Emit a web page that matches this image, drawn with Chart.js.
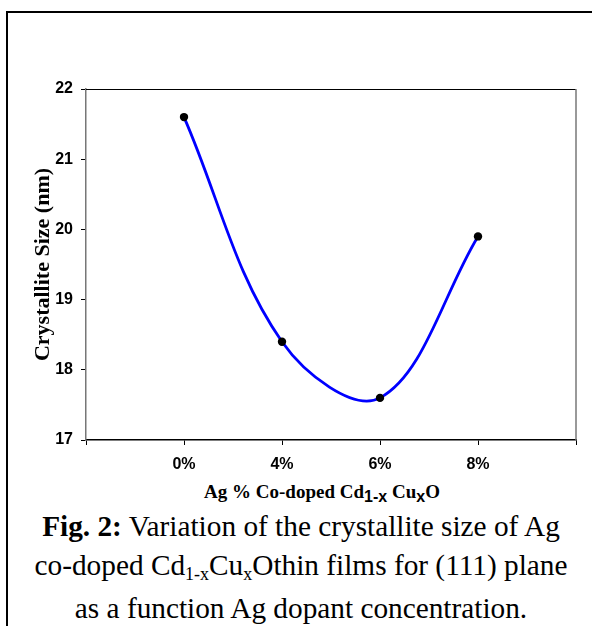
<!DOCTYPE html>
<html>
<head>
<meta charset="utf-8">
<script src="https://cdn.jsdelivr.net/npm/chart.js@4.4.1/dist/chart.umd.min.js"></script>
<style>
  html, body { margin: 0; padding: 0; background: #fff; }
  body { width: 592px; height: 626px; position: relative; overflow: hidden; }
  #frameTop { position: absolute; left: 6px; top: 11px; width: 600px; height: 2px; background: #000; }
  #frameLeft { position: absolute; left: 6px; top: 11px; width: 2px; height: 620px; background: #000; }
  #wrap { position: absolute; left: 0; top: 0; width: 592px; height: 480px; }
  #xtitle { position: absolute; left: 0; width: 644px; top: 481px; text-align: center;
    font-family: "Liberation Serif", "Times New Roman", serif; font-weight: bold; font-size: 19px; white-space: nowrap; }
  #xtitle .s { font-family: "Liberation Sans", Arial, sans-serif; font-size: 16px; position: relative; top: 4px; }
  #caption { position: absolute; left: 0; width: 602px; top: 507px; text-align: center;
    font-family: "Liberation Serif", "Times New Roman", serif; font-size: 29.3px; line-height: 39px; color: #000; white-space: nowrap; }
  #caption sub { font-size: 18px; vertical-align: baseline; position: relative; top: 5px; }
</style>
</head>
<body>
<div id="frameTop"></div>
<div id="frameLeft"></div>
<div id="wrap"><canvas id="c" width="592" height="480"></canvas></div>
<div id="xtitle">Ag % Co-doped Cd<span class="s">1-x</span> Cu<span class="s">x</span>O</div>
<div id="caption"><b>Fig. 2:</b> Variation of the crystallite size of Ag<br>co-doped Cd<sub>1-x</sub>Cu<sub>x</sub>Othin films for (111) plane<br>as a function Ag dopant concentration.</div>
<script>
const categories = ['0%', '4%', '6%', '8%'];
const crystalliteSize = [21.6, 18.4, 17.6, 19.9];
const yTicks = [17, 18, 19, 20, 21, 22];
const yTitle = 'Crystallite Size (nm)';

const labels = [''].concat(categories, ['']);
const values = [null].concat(crystalliteSize, [null]);

const boxPlugin = {
  id: 'box',
  afterDraw(chart) {
    const {ctx, chartArea: a} = chart;
    ctx.save();
    ctx.lineWidth = 1;
    ctx.strokeStyle = '#000';
    ctx.beginPath(); ctx.moveTo(a.left, a.top + 0.5); ctx.lineTo(a.right, a.top + 0.5); ctx.stroke();
    ctx.strokeStyle = '#777';
    ctx.lineWidth = 1.5;
    ctx.beginPath(); ctx.moveTo(a.right, a.top); ctx.lineTo(a.right, a.bottom); ctx.stroke();
    ctx.restore();
  }
};

new Chart(document.getElementById('c'), {
  type: 'line',
  data: {
    labels: labels,
    datasets: [{
      data: values,
      borderColor: '#0000ff',
      borderWidth: 2.8,
      tension: 0.36,
      spanGaps: true,
      pointRadius: 4.2,
      pointBackgroundColor: '#000',
      pointBorderColor: '#000',
      pointBorderWidth: 0,
      fill: false,
      clip: false
    }]
  },
  options: {
    responsive: false,
    animation: false,
    devicePixelRatio: 1,
    layout: { padding: { top: 89, right: 16, left: 0, bottom: 0 } },
    plugins: { legend: { display: false }, tooltip: { enabled: false } },
    scales: {
      x: {
        type: 'category',
        offset: false,
        grid: { drawOnChartArea: false, drawTicks: true, tickLength: 5, tickColor: '#000', tickWidth: 1 },
        border: { display: true, color: '#000', width: 1.5 },
        ticks: { color: '#000', padding: 10, maxRotation: 0, autoSkip: false,
          font: { family: '"Liberation Sans", Arial, sans-serif', weight: 'bold', size: 16 } },
        afterFit(scale) { scale.height = 40; }
      },
      y: {
        min: 17, max: 22,
        afterBuildTicks(scale) { scale.ticks = yTicks.map(v => ({ value: v })); },
        grid: { drawOnChartArea: false, drawTicks: true, tickLength: 5, tickColor: '#000', tickWidth: 1 },
        border: { display: true, color: '#777', width: 1.5 },
        ticks: { color: '#000', padding: 8,
          font: { family: '"Liberation Sans", Arial, sans-serif', weight: 'bold', size: 16 } },
        title: { display: true, text: yTitle, color: '#000', padding: { top: 30, bottom: 0 },
          font: { family: '"Liberation Serif", "Times New Roman", serif', weight: 'bold', size: 22 } },
        afterFit(scale) { scale.width = 86; }
      }
    }
  },
  plugins: [boxPlugin]
});
</script>
</body>
</html>
